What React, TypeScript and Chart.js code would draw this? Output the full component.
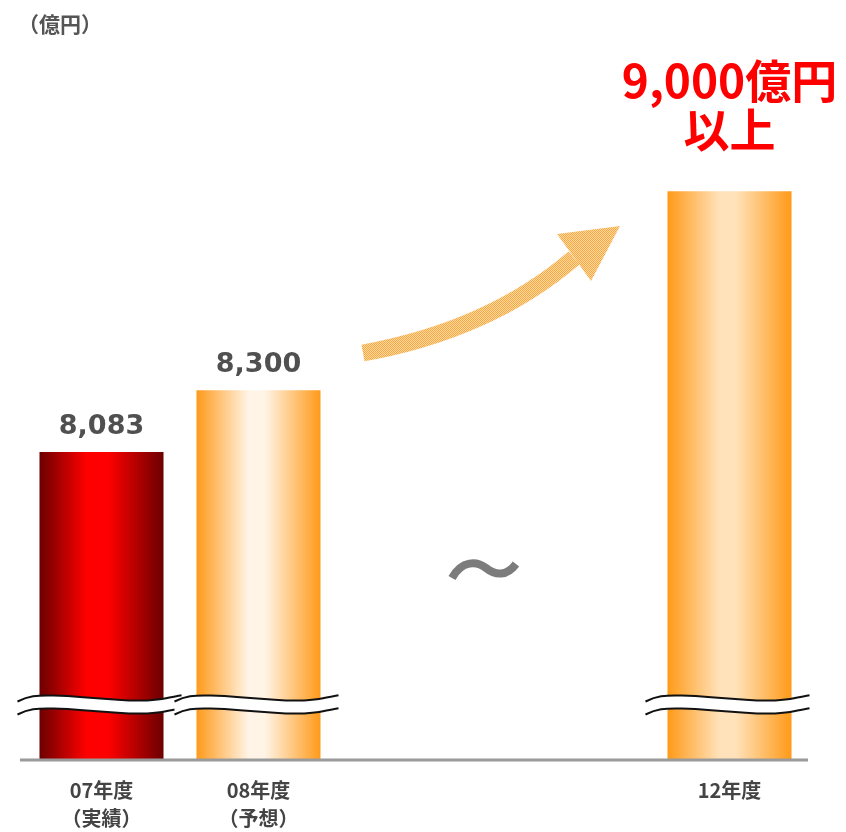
import React, { useEffect, useRef } from "react";
import { Chart, registerables } from "chart.js";

Chart.register(...registerables);

// ---- data ----
const categories: (string | string[])[] = [["07年度", "（実績）"], ["08年度", "（予想）"], "", "", "12年度"];
const values: (number | null)[] = [8083, 8300, null, null, 9000];
const valueLabels: string[][] = [["8,083"], ["8,300"], [], [], ["9,000億円", "以上"]];
const highlightLabel: boolean[] = [false, false, false, false, true];
const unitLabel = "（億円）";
const barEdgeColors = ["#6c0000", "#ff9a1a", "#ff9900", "#ff9900", "#ff9a18"];
const barCenterColors = ["#ff0000", "#fff4e6", "#ffe2ba", "#ffe2ba", "#ffe2ba"];
const yMin = 7000;
const yMax = 9672;

const JP = "'Noto Sans CJK JP', 'Noto Sans', sans-serif";
const BAR_PCT = 0.79;

function smoothPath(ctx: CanvasRenderingContext2D, pts: number[][], move: boolean) {
  if (move) ctx.moveTo(pts[0][0], pts[0][1]);
  else ctx.lineTo(pts[0][0], pts[0][1]);
  for (let i = 1; i < pts.length - 1; i++) {
    const mx = (pts[i][0] + pts[i + 1][0]) / 2;
    const my = (pts[i][1] + pts[i + 1][1]) / 2;
    ctx.quadraticCurveTo(pts[i][0], pts[i][1], mx, my);
  }
  const last = pts[pts.length - 1];
  ctx.lineTo(last[0], last[1]);
}

const waveShape = [
  [0, 6.5], [0.05, 2.5], [0.14, 0.2], [0.3, 1], [0.5, 3.5], [0.72, 6], [0.86, 4.8], [0.95, 1.6], [1, 0.3],
];

function wavePts(x0: number, x1: number, yb: number) {
  return waveShape.map(([t, o]) => [x0 + (x1 - x0) * t, yb + o]);
}

const decorPlugin = {
  id: "decor",
  afterDatasetsDraw(chart: any) {
    const ctx: CanvasRenderingContext2D = chart.ctx;
    const area = chart.chartArea;
    const meta = chart.getDatasetMeta(0);
    ctx.save();

    // break marks
    meta.data.forEach((bar: any, i: number) => {
      if (values[i] == null) return;
      const half = bar.width / 2;
      const x0 = bar.x - half - 22;
      const x1 = bar.x + half + 18;
      const up = wavePts(x0, x1, area.bottom - 65);
      const lo = wavePts(x0, x1, area.bottom - 52);
      ctx.beginPath();
      smoothPath(ctx, up, true);
      smoothPath(ctx, lo.slice().reverse(), false);
      ctx.closePath();
      ctx.fillStyle = "#ffffff";
      ctx.fill();
      ctx.strokeStyle = "#111111";
      ctx.lineWidth = 2;
      ctx.beginPath();
      smoothPath(ctx, up, true);
      ctx.stroke();
      ctx.beginPath();
      smoothPath(ctx, lo, true);
      ctx.stroke();
    });

    // baseline
    ctx.strokeStyle = "#9a9a9a";
    ctx.lineWidth = 3;
    ctx.beginPath();
    ctx.moveTo(area.left - 3, area.bottom);
    ctx.lineTo(area.right, area.bottom);
    ctx.stroke();

    // value labels
    ctx.textAlign = "center";
    ctx.textBaseline = "middle";
    meta.data.forEach((bar: any, i: number) => {
      const lines = valueLabels[i];
      if (!lines || !lines.length || values[i] == null) return;
      if (highlightLabel[i]) {
        ctx.fillStyle = "#ff0000";
        ctx.font = `bold 46px ${JP}`;
        lines.forEach((ln, k) => {
          ctx.fillText(ln, bar.x, bar.y - 111 + k * 49);
        });
      } else {
        ctx.fillStyle = "#505050";
        ctx.font = `bold 27px 'DejaVu Sans', sans-serif`;
        ctx.fillText(lines[0], bar.x, bar.y - 25);
      }
    });

    // unit label
    ctx.fillStyle = "#555555";
    ctx.font = `bold 21px ${JP}`;
    ctx.fillText(unitLabel, 60, 24);

    // tilde
    ctx.strokeStyle = "#7c7c7c";
    ctx.lineWidth = 8;
    ctx.lineCap = "butt";
    ctx.beginPath();
    ctx.moveTo(452, 578);
    ctx.bezierCurveTo(462, 560, 477, 561, 486, 568);
    ctx.bezierCurveTo(496, 576, 507, 576, 516, 564);
    ctx.stroke();

    // arrow
    const pc = document.createElement("canvas");
    pc.width = 2;
    pc.height = 2;
    const pctx = pc.getContext("2d")!;
    pctx.fillStyle = "#fdd9a6";
    pctx.fillRect(0, 0, 2, 2);
    pctx.fillStyle = "#f8a83c";
    pctx.fillRect(0, 0, 1, 1);
    pctx.fillRect(1, 1, 1, 1);
    const pat = ctx.createPattern(pc, "repeat")!;
    ctx.strokeStyle = pat;
    ctx.lineWidth = 17;
    ctx.beginPath();
    ctx.moveTo(363, 353);
    ctx.quadraticCurveTo(490, 330, 574, 258);
    ctx.stroke();
    ctx.fillStyle = pat;
    ctx.beginPath();
    ctx.moveTo(557, 234);
    ctx.lineTo(620, 226);
    ctx.lineTo(591, 281);
    ctx.closePath();
    ctx.fill();

    ctx.restore();
  },
};

export default function App() {
  const ref = useRef<HTMLCanvasElement | null>(null);
  useEffect(() => {
    if (!ref.current) return;
    const chart = new Chart(ref.current, {
      type: "bar",
      data: {
        labels: categories as any,
        datasets: [
          {
            data: values as any,
            borderWidth: 0,
            barPercentage: BAR_PCT,
            categoryPercentage: 1,
            backgroundColor: (c: any) => {
              const i = c.dataIndex;
              const chart = c.chart;
              const xs = chart.scales?.x;
              if (i == null || values[i] == null || !xs || !chart.chartArea) return "#ff9900";
              const cx = xs.getPixelForValue(i);
              const w = (xs.width / categories.length) * BAR_PCT;
              if (!isFinite(cx) || !isFinite(w)) return barEdgeColors[i];
              const g = chart.ctx.createLinearGradient(cx - w / 2, 0, cx + w / 2, 0);
              const a = i === 0 ? 0.38 : 0.42;
              g.addColorStop(0, barEdgeColors[i]);
              g.addColorStop(a, barCenterColors[i]);
              g.addColorStop(0.55, barCenterColors[i]);
              g.addColorStop(1, barEdgeColors[i]);
              return g;
            },
          },
        ],
      },
      options: {
        responsive: false,
        animation: false,
        devicePixelRatio: 1,
        layout: { padding: { left: 23, right: 38, top: 0, bottom: -16 } },
        plugins: { legend: { display: false }, tooltip: { enabled: false } },
        scales: {
          x: {
            grid: { display: false, drawTicks: false },
            border: { display: false },
            ticks: {
              color: "#444444",
              padding: 16,
              maxRotation: 0,
              autoSkip: false,
              font: { family: JP, size: 20, weight: "bold", lineHeight: 1.4 },
            },
          },
          y: {
            display: false,
            min: yMin,
            max: yMax,
          },
        },
      },
      plugins: [decorPlugin],
    });
    return () => chart.destroy();
  }, []);
  return (
    <div style={{ position: "absolute", left: 0, top: 0, width: 846, height: 832, background: "#fff" }}>
      <canvas ref={ref} width={846} height={832} />
    </div>
  );
}
